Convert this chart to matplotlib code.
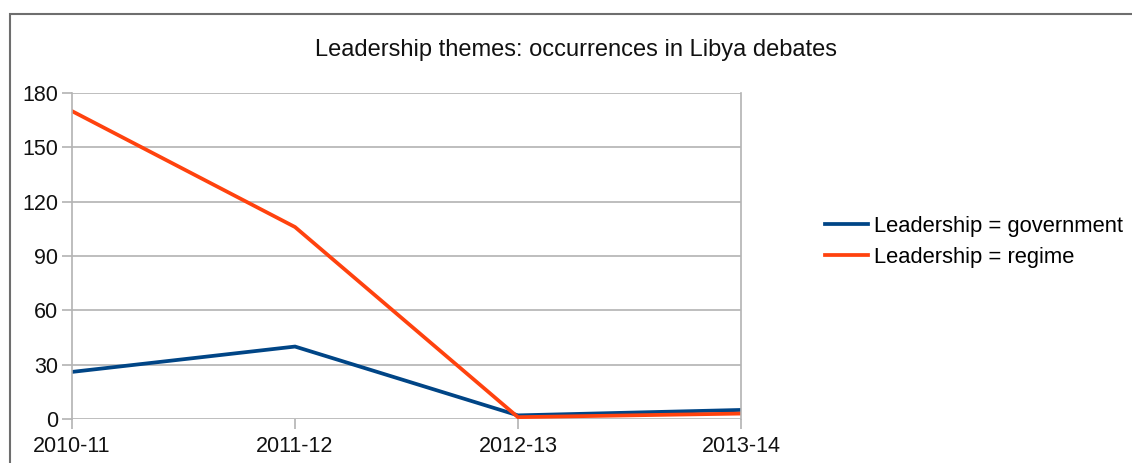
import matplotlib
matplotlib.use('Agg')
import matplotlib.pyplot as plt
from matplotlib.patches import Rectangle

plt.rcParams['font.family'] = ['Liberation Sans', 'DejaVu Sans']

years = ['2010-11', '2011-12', '2012-13', '2013-14']
government = [26, 40, 2, 5]
regime = [170, 106, 1, 3]
y_ticks = [0, 30, 60, 90, 120, 150, 180]

fig = plt.figure(figsize=(11.32, 4.63), dpi=100)

# outer frame of the chart area
fig.patches.append(Rectangle((10 / 1132, -0.1), 1.2, (463 - 14) / 463 + 0.1,
                             transform=fig.transFigure, fill=False,
                             edgecolor='#6e6e6e', linewidth=1.5))

ax = fig.add_axes([72 / 1132, 1 - 419 / 463, (741 - 72) / 1132, (419 - 93) / 463])
x = list(range(len(years)))
ax.plot(x, government, color='#004586', linewidth=2.7, label='Leadership = government',
        solid_joinstyle='miter')
ax.plot(x, regime, color='#ff420e', linewidth=2.7, label='Leadership = regime',
        solid_joinstyle='miter')

ax.set_xlim(0, len(years) - 1)
ax.set_ylim(0, 180)
ax.set_xticks(x)
ax.set_xticklabels(years)
ax.set_yticks(y_ticks)
ax.tick_params(axis='both', colors='#b3b3b3', labelcolor='#111111', labelsize=15.5,
               length=7, width=1.2)
ax.tick_params(axis='x', pad=5)
ax.tick_params(axis='y', pad=3)
ax.grid(axis='y', color='#b3b3b3', linewidth=1.2)
ax.set_axisbelow(True)
for side in ['top', 'bottom']:
    ax.spines[side].set_visible(False)
for side in ['left', 'right']:
    ax.spines[side].set_color('#b3b3b3')
    ax.spines[side].set_linewidth(1.2)

fig.text(576 / 1132, 1 - 50 / 463, 'Leadership themes: occurrences in Libya debates',
         ha='center', va='center', fontsize=17, color='#111111')

fig.legend(loc='center left', bbox_to_anchor=(825 / 1132, 1 - 242 / 463),
           frameon=False, fontsize=15.8, handlelength=1.95, handletextpad=0.3,
           labelspacing=0.45, borderpad=0, borderaxespad=0)

fig.savefig('out.png', dpi=100)
